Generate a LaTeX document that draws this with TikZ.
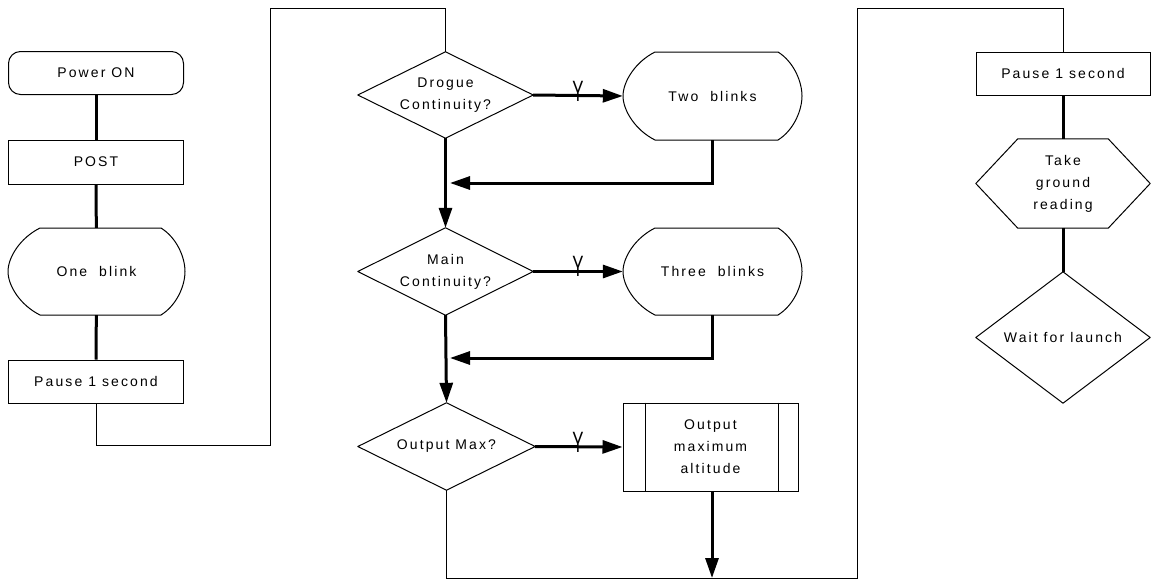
\documentclass[tikz,border=0pt]{standalone}
\usepackage{fontspec}
\usepackage{graphicx}
\newfontfamily\lblfont{Liberation Sans}[LetterSpace=15]
\newfontfamily\yfont{Liberation Sans}
\usetikzlibrary{arrows.meta}
\newcommand\dispshape[4]{%
  \draw[border] ({#1+32},#2) -- ({#3-24},#2)
    .. controls ({#3-8},{#2+10}) and (#3,{(#2+#4)/2-14}) .. (#3,{(#2+#4)/2})
    .. controls (#3,{(#2+#4)/2+14}) and ({#3-8},{#4-10}) .. ({#3-24},#4)
    -- ({#1+32},#4)
    .. controls ({#1+12},{#4-10}) and (#1,{(#2+#4)/2+14}) .. (#1,{(#2+#4)/2})
    .. controls (#1,{(#2+#4)/2-14}) and ({#1+12},{#2+10}) .. ({#1+32},#2);}
\newcommand\tallY{\scalebox{1.2}[2.1]{Y}}
\begin{document}
\begin{tikzpicture}[x=1pt,y=-1pt,
  lbl/.style={font=\lblfont\fontsize{14}{22}\selectfont, align=center, inner sep=0pt},
  box/.style={lbl, draw, line width=1pt, minimum width=175pt, minimum height=43pt},
  border/.style={line width=1pt, line join=round},
  flow/.style={line width=3pt},
  flowarrow/.style={line width=3pt, -{Triangle[length=20pt,width=13pt]}},
  link/.style={line width=1pt},
  ylbl/.style={font=\yfont\fontsize{14}{14}\selectfont, inner sep=0pt, anchor=base}]
\fill[white] (0,0) rectangle (1151,581);
\useasboundingbox (0,0) rectangle (1151,581);

% left column
\node[box, rounded corners=12pt] (pwr) at (96,73) {Power ON};
\node[box, minimum height=44pt] (post) at (96,162) {POST};
\node[lbl, minimum width=177pt, minimum height=87pt] (one) at (96.5,271.5) {One~ blink};
\dispshape{8}{228}{185}{315}
\node[box] (pause1) at (96,381.5) {Pause 1 second};

% middle column
\node[lbl, minimum width=175pt, minimum height=86pt] (drogue) at (445.5,95) {Drogue\\Continuity?};
\draw[border] (drogue.north) -- (drogue.east) -- (drogue.south) -- (drogue.west) -- cycle;
\node[lbl, minimum width=179pt, minimum height=88pt] (two) at (712.5,96) {Two~ blinks};
\dispshape{623}{52}{802}{140}

\node[lbl, minimum width=175pt, minimum height=87pt] (main) at (445.5,271.5) {Main\\Continuity?};
\draw[border] (main.north) -- (main.east) -- (main.south) -- (main.west) -- cycle;
\node[lbl, minimum width=179pt, minimum height=87pt] (three) at (712.5,271.5) {Three~ blinks};
\dispshape{623}{228}{802}{315}

\node[lbl, minimum width=177pt, minimum height=87pt] (outmax) at (446.5,446.5) {Output Max?};
\draw[border] (outmax.north) -- (outmax.east) -- (outmax.south) -- (outmax.west) -- cycle;
\node[lbl, draw, line width=1pt, minimum width=175pt, minimum height=88pt] (outalt) at (710.5,447) {Output\\maximum\\altitude};
\draw[border] ([xshift=23pt]outalt.north west) -- ([xshift=23pt]outalt.south west);
\draw[border] ([xshift=-20pt]outalt.north east) -- ([xshift=-20pt]outalt.south east);

% right column
\node[box, minimum width=174pt] (pause2) at (1063,73.5) {Pause 1 second};
\node[lbl, minimum width=174pt, minimum height=89pt] (take) at (1063,183.5) {Take\\ground\\reading};
\draw[border] (take.west) -- ([xshift=42pt]take.north west) -- ([xshift=-42pt]take.north east)
  -- (take.east) -- ([xshift=-42pt]take.south east) -- ([xshift=42pt]take.south west) -- cycle;
\node[lbl, minimum width=174pt, minimum height=131pt] (wait) at (1063,337.5) {Wait for launch};
\draw[border] (wait.north) -- (wait.east) -- (wait.south) -- (wait.west) -- cycle;

% coordinates for routing
\coordinate (c1) at (270,445);
\coordinate (c2) at (270,8);
\coordinate (j1) at (450,183);
\coordinate (j2) at (450,358);
\coordinate (j3) at (712,578);
\coordinate (c3) at (857,578);
\coordinate (c4) at (857,8);

% left column connectors
\draw[flow] (pwr) -- (post);
\draw[flow] (post) -- (one);
\draw[flow] (one) -- (pause1);
\draw[link] (pause1.south) |- (c1) -- (c2) -| (drogue.north);

% middle column connectors
\draw[flowarrow] (drogue.east) -- (two.west);
\node[ylbl] (y1) at (578,101) {\tallY};
\draw[flowarrow] (two.south) |- (j1);
\draw[flowarrow] (drogue.south) -- (main.north);
\draw[flowarrow] (main.east) -- (three.west);
\node[ylbl] (y2) at (578,276.5) {\tallY};
\draw[flowarrow] (three.south) |- (j2);
\draw[flowarrow] (main.south) -- (outmax.north);
\draw[flowarrow] (outmax.east) -- (outalt.west);
\node[ylbl] (y3) at (578,452) {\tallY};
\draw[flowarrow] (outalt.south -| j3) -- (j3);
\draw[link] (outmax.south) |- (c3) -- (c4) -| (pause2.north);

% right column connectors
\draw[flow] (pause2) -- (take);
\draw[flow] (take) -- (wait);
\end{tikzpicture}
\end{document}
